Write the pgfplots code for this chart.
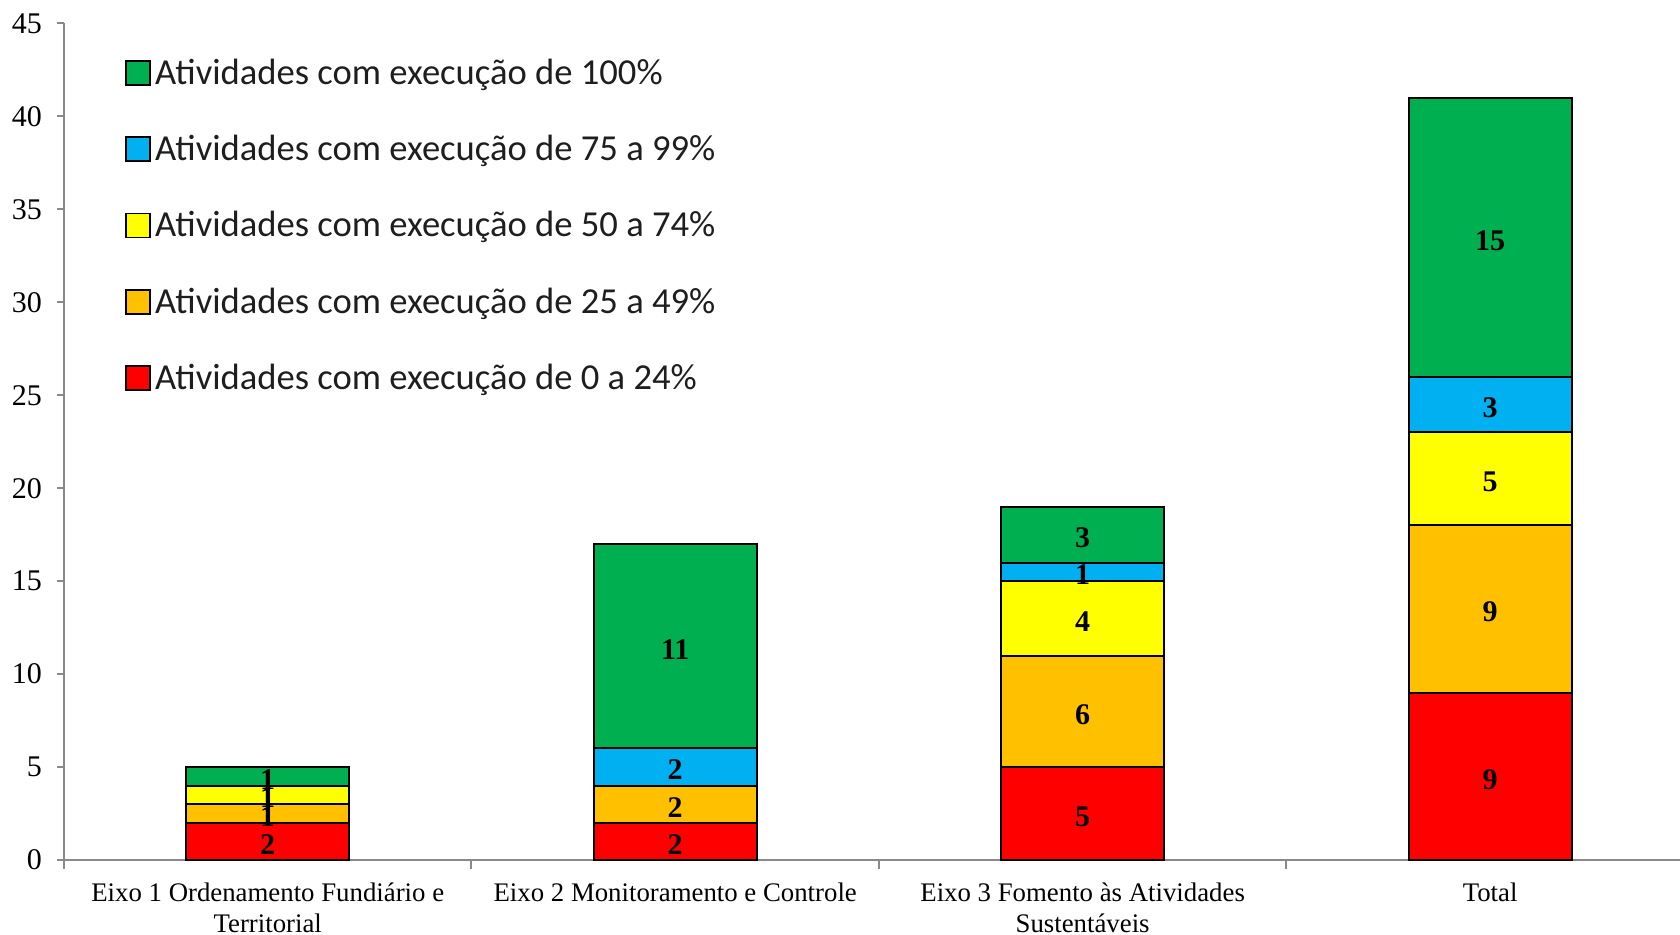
\documentclass[border=0pt]{standalone}
\usepackage{pgfplots}
\usepackage{pgfplotstable}
\pgfplotsset{compat=1.18}
\usepackage{fontspec}
\setmainfont{Liberation Serif}
\newfontfamily\calibri{Carlito}
\definecolor{cgreen}{HTML}{00B050}
\definecolor{cblue}{HTML}{00B0F0}
\definecolor{cyellow}{HTML}{FFFF00}
\definecolor{corange}{HTML}{FFC000}
\definecolor{cred}{HTML}{FF0000}
\definecolor{axgray}{HTML}{898989}
\definecolor{legtext}{HTML}{1E1E1E}

\pgfplotstableread{
x red orange yellow blue green
0 2 1 1 0 1
1 2 2 0 2 11
2 5 6 4 1 3
3 9 9 5 3 15
}\data

\begin{document}
\begin{tikzpicture}
\useasboundingbox (-32bp,-37.5bp) rectangle (808bp,430bp);
\begin{axis}[
  at={(0,0)}, anchor=south west,
  scale only axis, width=808bp, height=418.25bp,
  ybar stacked, bar width=81.5bp,
  xmin=-0.5, xmax=3.466, ymin=0, ymax=45,
  axis x line*=bottom, axis y line*=left,
  axis line style={draw=axgray, line width=1bp, -},
  ytick={0,5,...,45},
  xtick={0,1,2,3},
  xticklabels={{Eixo 1 Ordenamento Fundiário e\\Territorial},{Eixo 2 Monitoramento e Controle},{Eixo 3 Fomento às Atividades\\Sustentáveis},{Total}},
  minor xtick={-0.5,0.5,1.5,2.5},
  major x tick style={draw=none},
  minor x tick style={draw=axgray, line width=1bp},
  major y tick style={draw=axgray, line width=1bp},
  tick align=outside,
  major tick length=3.5bp, minor tick length=4.5bp,
  /pgf/number format/assume math mode=true,
  yticklabel style={font=\fontsize{15bp}{15.5bp}\selectfont, xshift=-4bp},
  xticklabel style={font=\fontsize{13.4bp}{15.3bp}\selectfont, align=center, yshift=-4.5bp},
  visualization depends on={rawy \as \rawy},
  nodes near coords={\ifdim\rawy pt>0pt \pgfmathprintnumber{\rawy}\fi},
  every node near coord/.append style={anchor=center, yshift=-1.5bp, font=\bfseries\fontsize{15bp}{15bp}\selectfont, text=black},
  every axis plot/.append style={draw=black, line width=1bp},
  reverse legend,
  legend cell align=left,
  legend style={at={(0.034,0.968)}, anchor=north west, draw=none, fill=none,
    font=\calibri\fontsize{18.3bp}{18.3bp}\selectfont, text=legtext, row sep=20bp,
    nodes={inner xsep=2bp}},
  legend image code/.code={\draw[#1, line width=0.9bp] (0bp,-6bp) rectangle (12bp,6bp);},
]
\addplot[fill=cred] table[x=x,y=red] {\data};
\addplot[fill=corange] table[x=x,y=orange] {\data};
\addplot[fill=cyellow] table[x=x,y=yellow] {\data};
\addplot[fill=cblue] table[x=x,y=blue] {\data};
\addplot[fill=cgreen] table[x=x,y=green] {\data};
\legend{Atividades com execução de 0 a 24\%,Atividades com execução de 25 a 49\%,Atividades com execução de 50 a 74\%,Atividades com execução de 75 a 99\%,Atividades com execução de 100\%}
\end{axis}
\end{tikzpicture}
\end{document}
